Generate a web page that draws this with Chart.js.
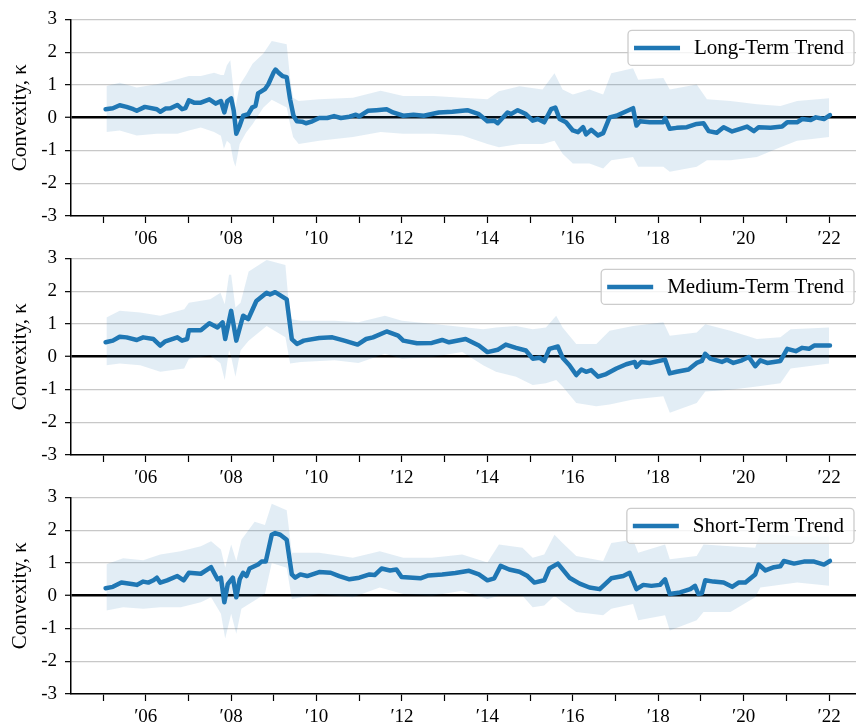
<!DOCTYPE html>
<html>
<head>
<meta charset="utf-8">
<script src="https://cdn.jsdelivr.net/npm/chart.js@4.4.0/dist/chart.umd.min.js"></script>
<style>
  body { margin: 0; background: #fff; width: 856px; height: 725px; overflow: hidden; position: relative; }
  canvas { position: absolute; left: 0; }
</style>
</head>
<body>
<canvas id="longChart" width="856" height="250" style="top:0px"></canvas>
<canvas id="mediumChart" width="856" height="250" style="top:239px"></canvas>
<canvas id="shortChart" width="856" height="250" style="top:478px"></canvas>
<script>
// tick years on the x axis
const tickYears = [2005, 2006, 2007, 2008, 2009, 2010, 2011, 2012, 2013, 2014, 2015, 2016, 2017, 2018, 2019, 2020, 2021, 2022];
const yTicks = [-3, -2, -1, 0, 1, 2, 3];

// Long-term trend
const longYears = [2005.06, 2005.23, 2005.39, 2005.55, 2005.71, 2005.79, 2005.98, 2006.26, 2006.34, 2006.46, 2006.58, 2006.74, 2006.85, 2006.93, 2007.01, 2007.13, 2007.29, 2007.49, 2007.64, 2007.76, 2007.84, 2007.91, 2008.0, 2008.06, 2008.12, 2008.2, 2008.28, 2008.4, 2008.49, 2008.57, 2008.63, 2008.79, 2008.87, 2008.99, 2009.04, 2009.11, 2009.2, 2009.3, 2009.38, 2009.46, 2009.54, 2009.66, 2009.75, 2009.9, 2010.06, 2010.25, 2010.41, 2010.57, 2010.77, 2010.92, 2011.0, 2011.2, 2011.4, 2011.64, 2011.79, 2012.03, 2012.27, 2012.51, 2012.86, 2013.18, 2013.53, 2013.8, 2014.0, 2014.16, 2014.24, 2014.47, 2014.55, 2014.71, 2014.9, 2015.06, 2015.18, 2015.33, 2015.49, 2015.59, 2015.69, 2015.84, 2016.0, 2016.12, 2016.24, 2016.31, 2016.43, 2016.59, 2016.71, 2016.86, 2017.02, 2017.41, 2017.49, 2017.57, 2017.8, 2018.12, 2018.16, 2018.27, 2018.43, 2018.67, 2018.9, 2019.06, 2019.18, 2019.37, 2019.53, 2019.73, 2019.92, 2020.08, 2020.24, 2020.35, 2020.63, 2020.9, 2021.02, 2021.25, 2021.37, 2021.57, 2021.69, 2021.88, 2022.02];
const longKappa = [0.26, 0.29, 0.38, 0.33, 0.26, 0.21, 0.33, 0.26, 0.18, 0.28, 0.29, 0.39, 0.26, 0.29, 0.53, 0.46, 0.46, 0.56, 0.43, 0.51, 0.16, 0.51, 0.59, 0.21, -0.49, -0.24, 0.06, 0.11, 0.31, 0.36, 0.74, 0.87, 1.02, 1.37, 1.47, 1.37, 1.27, 1.24, 0.56, 0.06, -0.11, -0.12, -0.17, -0.11, -0.01, -0.01, 0.05, -0.01, 0.03, 0.09, 0.04, 0.21, 0.23, 0.26, 0.16, 0.06, 0.09, 0.06, 0.16, 0.18, 0.23, 0.11, -0.11, -0.09, -0.17, 0.16, 0.11, 0.23, 0.11, -0.09, -0.04, -0.14, 0.26, 0.31, -0.04, -0.14, -0.39, -0.44, -0.29, -0.51, -0.37, -0.54, -0.47, 0.01, 0.06, 0.29, -0.24, -0.11, -0.14, -0.14, -0.01, -0.34, -0.31, -0.29, -0.19, -0.17, -0.41, -0.46, -0.29, -0.42, -0.34, -0.27, -0.41, -0.29, -0.31, -0.27, -0.14, -0.14, -0.04, -0.07, 0.01, -0.04, 0.08];
const longBandYears = [2005.08, 2005.39, 2005.79, 2006.26, 2006.74, 2007.01, 2007.29, 2007.6, 2007.76, 2007.83, 2007.9, 2007.98, 2008.05, 2008.1, 2008.2, 2008.35, 2008.5, 2008.75, 2008.95, 2009.3, 2009.38, 2009.45, 2009.58, 2010.06, 2010.85, 2011.5, 2012.03, 2012.74, 2013.41, 2014.0, 2014.27, 2014.75, 2015.29, 2015.57, 2015.76, 2016.0, 2016.39, 2016.71, 2016.9, 2017.41, 2017.53, 2018.12, 2018.27, 2018.9, 2019.14, 2019.69, 2020.31, 2020.86, 2021.25, 2022.0];
const longBandLow = [-0.44, -0.39, -0.54, -0.49, -0.49, -0.39, -0.3, -0.44, -0.55, -0.95, -0.7, -0.8, -1.3, -1.5, -0.8, -0.45, -0.2, 0.3, 0.55, 0.31, -0.2, -0.59, -0.8, -0.7, -0.59, -0.44, -0.49, -0.49, -0.54, -0.8, -0.9, -0.8, -0.8, -0.7, -1.1, -1.4, -1.4, -1.55, -1.3, -1.2, -1.5, -1.5, -1.65, -1.5, -1.3, -1.3, -1.2, -0.9, -0.7, -0.59];
const longBandHigh = [0.97, 1.07, 0.92, 1.02, 1.17, 1.27, 1.27, 1.37, 1.3, 1.3, 1.6, 1.75, 0.9, 0.3, 1.0, 1.3, 1.65, 1.95, 2.34, 2.24, 1.2, 0.61, 0.51, 0.56, 0.61, 0.82, 0.66, 0.66, 0.61, 0.56, 0.81, 0.96, 0.86, 1.36, 0.86, 0.71, 0.86, 0.71, 1.36, 1.51, 1.16, 1.21, 0.86, 1.01, 0.56, 0.51, 0.41, 0.36, 0.51, 0.59];

// Medium-term trend
const mediumYears = [2005.06, 2005.23, 2005.39, 2005.55, 2005.79, 2005.94, 2006.18, 2006.34, 2006.46, 2006.74, 2006.85, 2006.97, 2007.01, 2007.29, 2007.49, 2007.68, 2007.8, 2007.86, 2008.0, 2008.12, 2008.28, 2008.4, 2008.59, 2008.83, 2008.91, 2009.03, 2009.3, 2009.42, 2009.54, 2009.7, 2010.06, 2010.37, 2010.65, 2010.96, 2011.16, 2011.32, 2011.64, 2011.91, 2012.03, 2012.35, 2012.7, 2012.94, 2013.1, 2013.49, 2013.8, 2014.0, 2014.24, 2014.43, 2014.67, 2014.9, 2015.06, 2015.22, 2015.33, 2015.45, 2015.65, 2015.76, 2015.92, 2016.08, 2016.2, 2016.31, 2016.43, 2016.59, 2016.78, 2017.02, 2017.25, 2017.45, 2017.49, 2017.6, 2017.8, 2018.16, 2018.27, 2018.43, 2018.71, 2018.9, 2019.02, 2019.1, 2019.22, 2019.49, 2019.61, 2019.76, 2019.96, 2020.12, 2020.27, 2020.39, 2020.55, 2020.86, 2021.02, 2021.22, 2021.37, 2021.53, 2021.65, 2021.88, 2022.02];
const mediumKappa = [0.44, 0.49, 0.61, 0.59, 0.51, 0.59, 0.54, 0.34, 0.47, 0.59, 0.49, 0.54, 0.81, 0.81, 1.02, 0.89, 1.05, 0.54, 1.4, 0.49, 1.25, 1.15, 1.7, 1.95, 1.9, 1.97, 1.75, 0.54, 0.39, 0.49, 0.57, 0.59, 0.49, 0.37, 0.54, 0.59, 0.77, 0.64, 0.49, 0.41, 0.42, 0.51, 0.44, 0.54, 0.34, 0.14, 0.21, 0.37, 0.27, 0.19, -0.06, -0.03, -0.13, 0.24, 0.31, -0.03, -0.26, -0.56, -0.39, -0.46, -0.41, -0.61, -0.53, -0.36, -0.23, -0.16, -0.31, -0.16, -0.19, -0.09, -0.51, -0.46, -0.39, -0.19, -0.13, 0.09, -0.06, -0.16, -0.09, -0.19, -0.11, -0.01, -0.29, -0.11, -0.19, -0.13, 0.24, 0.17, 0.27, 0.24, 0.34, 0.34, 0.34];
const mediumBandYears = [2005.08, 2005.39, 2005.87, 2006.34, 2006.9, 2007.01, 2007.51, 2007.75, 2007.85, 2007.95, 2008.0, 2008.1, 2008.22, 2008.41, 2008.83, 2009.27, 2009.38, 2009.63, 2010.42, 2010.98, 2011.6, 2012.0, 2012.74, 2013.41, 2013.9, 2014.2, 2014.67, 2015.06, 2015.37, 2015.61, 2015.76, 2016.08, 2016.55, 2016.86, 2017.41, 2018.12, 2018.27, 2018.9, 2019.1, 2019.69, 2020.31, 2020.86, 2021.1, 2022.0];
const mediumBandLow = [-0.26, -0.21, -0.26, -0.46, -0.36, -0.06, 0.04, -0.2, -0.71, 0.2, 0.0, -0.61, 0.19, 0.49, 0.94, 0.59, -0.21, -0.16, -0.11, -0.19, 0.09, -0.06, 0.0, 0.14, -0.26, -0.46, -0.61, -0.86, -0.81, -0.71, -0.91, -1.41, -1.51, -1.46, -1.31, -1.21, -1.71, -1.41, -1.06, -1.01, -0.91, -0.81, -0.36, -0.21];
const mediumBandHigh = [1.2, 1.4, 1.35, 1.25, 1.45, 1.65, 1.75, 1.95, 1.6, 2.5, 2.5, 1.5, 1.65, 2.6, 2.95, 2.8, 1.15, 1.1, 1.1, 1.05, 1.25, 1.1, 1.0, 0.91, 0.84, 0.89, 0.94, 0.84, 0.89, 1.25, 0.89, 0.39, 0.39, 0.79, 0.94, 1.05, 0.64, 0.74, 0.99, 0.79, 0.54, 0.59, 0.84, 0.89];

// Short-term trend
const shortYears = [2005.06, 2005.23, 2005.43, 2005.71, 2005.79, 2005.94, 2006.06, 2006.18, 2006.26, 2006.34, 2006.5, 2006.74, 2006.89, 2007.01, 2007.29, 2007.53, 2007.68, 2007.76, 2007.84, 2007.92, 2008.04, 2008.12, 2008.2, 2008.28, 2008.36, 2008.43, 2008.63, 2008.71, 2008.81, 2008.95, 2009.03, 2009.15, 2009.3, 2009.42, 2009.5, 2009.62, 2009.78, 2010.06, 2010.33, 2010.53, 2010.77, 2011.0, 2011.24, 2011.36, 2011.52, 2011.72, 2011.87, 2011.99, 2012.43, 2012.62, 2012.94, 2013.25, 2013.57, 2013.8, 2014.0, 2014.16, 2014.31, 2014.51, 2014.75, 2014.94, 2015.1, 2015.33, 2015.45, 2015.65, 2015.92, 2016.16, 2016.39, 2016.63, 2016.9, 2017.18, 2017.33, 2017.49, 2017.65, 2017.84, 2018.04, 2018.16, 2018.27, 2018.51, 2018.75, 2018.86, 2018.94, 2019.02, 2019.1, 2019.29, 2019.53, 2019.73, 2019.88, 2020.04, 2020.27, 2020.35, 2020.51, 2020.71, 2020.86, 2020.94, 2021.18, 2021.41, 2021.65, 2021.88, 2022.02];
const shortKappa = [0.23, 0.27, 0.4, 0.35, 0.33, 0.43, 0.4, 0.47, 0.55, 0.4, 0.47, 0.6, 0.47, 0.7, 0.67, 0.87, 0.5, 0.55, -0.2, 0.35, 0.55, -0.05, 0.5, 0.7, 0.6, 0.83, 0.95, 1.04, 1.04, 1.86, 1.91, 1.86, 1.71, 0.65, 0.55, 0.65, 0.6, 0.72, 0.7, 0.6, 0.5, 0.55, 0.65, 0.63, 0.83, 0.77, 0.8, 0.57, 0.53, 0.62, 0.65, 0.69, 0.76, 0.65, 0.47, 0.53, 0.91, 0.8, 0.73, 0.6, 0.4, 0.47, 0.83, 0.98, 0.55, 0.37, 0.25, 0.2, 0.53, 0.6, 0.7, 0.2, 0.33, 0.3, 0.33, 0.5, 0.05, 0.1, 0.2, 0.3, 0.05, 0.07, 0.47, 0.43, 0.4, 0.27, 0.4, 0.4, 0.65, 0.95, 0.77, 0.87, 0.9, 1.06, 0.98, 1.04, 1.04, 0.95, 1.06];
const shortBandYears = [2005.08, 2005.47, 2005.94, 2006.34, 2006.82, 2007.29, 2007.53, 2007.76, 2007.86, 2008.0, 2008.12, 2008.24, 2008.55, 2008.79, 2008.95, 2009.3, 2009.42, 2010.06, 2010.85, 2011.48, 2012.03, 2012.7, 2013.41, 2014.0, 2014.27, 2014.82, 2015.06, 2015.33, 2015.57, 2015.76, 2016.08, 2016.71, 2016.9, 2017.41, 2017.53, 2018.16, 2018.27, 2018.9, 2019.06, 2019.69, 2020.27, 2020.39, 2021.25, 2022.0];
const shortBandLow = [-0.45, -0.35, -0.4, -0.35, -0.35, -0.2, -0.05, -0.55, -1.31, -0.55, -1.16, -0.4, -0.15, 0.05, 1.0, 0.85, -0.1, 0.05, -0.05, 0.25, 0.05, 0.0, 0.15, -0.1, 0.0, 0.0, -0.35, -0.3, 0.0, -0.2, -0.5, -0.6, -0.4, -0.25, -0.75, -0.6, -1.06, -0.75, -0.5, -0.5, -0.05, 0.25, 0.4, 0.3];
const shortBandHigh = [0.96, 1.14, 1.08, 1.26, 1.36, 1.51, 1.66, 1.41, 0.86, 1.56, 1.06, 1.71, 2.26, 2.16, 2.81, 2.61, 1.31, 1.31, 1.16, 1.36, 1.16, 1.16, 1.26, 1.01, 1.56, 1.46, 1.16, 1.26, 1.86, 1.61, 1.21, 1.06, 1.61, 1.71, 1.31, 1.56, 1.11, 1.21, 1.56, 1.51, 1.46, 1.91, 1.81, 1.81];

const lineColor = '#1f77b4';
const bandColor = 'rgba(31, 119, 180, 0.13)';

Chart.defaults.font.family = '"Liberation Serif", "Times New Roman", serif';
Chart.defaults.color = '#000';

const toPoints = (xs, ys) => xs.map((x, i) => ({ x: x, y: ys[i] }));

// legend drawn as a framed box in the top right of the plot area
const legendBox = {
  id: 'legendBox',
  afterDraw(chart, args, opts) {
    const { ctx, chartArea } = chart;
    ctx.save();
    ctx.font = '21px "Liberation Serif", serif';
    const w = ctx.measureText(opts.text).width + 76;
    const h = 35;
    const x = chartArea.right - 2 - w;
    const y = chartArea.top + 11;
    ctx.beginPath();
    ctx.roundRect(x, y, w, h, 4);
    ctx.fillStyle = 'rgba(255,255,255,0.8)';
    ctx.fill();
    ctx.strokeStyle = '#cccccc';
    ctx.lineWidth = 1.3;
    ctx.stroke();
    ctx.beginPath();
    ctx.moveTo(x + 6, y + h / 2);
    ctx.lineTo(x + 52, y + h / 2);
    ctx.strokeStyle = lineColor;
    ctx.lineWidth = 4.5;
    ctx.stroke();
    ctx.fillStyle = '#000';
    ctx.textBaseline = 'middle';
    ctx.fillText(opts.text, x + 66, y + h / 2 + 1);
    ctx.restore();
  }
};

function makePanel(id, label, years, kappa, bandYears, bandLow, bandHigh) {
  return new Chart(document.getElementById(id), {
    type: 'line',
    data: {
      datasets: [
        {
          label: label,
          data: toPoints(years, kappa),
          borderColor: lineColor,
          borderWidth: 4.5,
          borderJoinStyle: 'round',
          borderCapStyle: 'round',
          pointRadius: 0,
          tension: 0,
          fill: false
        },
        {
          label: 'upper',
          data: toPoints(bandYears, bandHigh),
          borderWidth: 0,
          borderColor: 'rgba(0,0,0,0)',
          backgroundColor: bandColor,
          pointRadius: 0,
          tension: 0,
          fill: '+1'
        },
        {
          label: 'lower',
          data: toPoints(bandYears, bandLow),
          borderWidth: 0,
          borderColor: 'rgba(0,0,0,0)',
          pointRadius: 0,
          tension: 0,
          fill: false
        }
      ]
    },
    options: {
      responsive: false,
      animation: false,
      devicePixelRatio: 1,
      layout: { padding: { top: 18, left: 0, right: 0, bottom: 0 } },
      plugins: {
        legend: { display: false },
        tooltip: { enabled: false },
        legendBox: { text: label }
      },
      scales: {
        x: {
          type: 'linear',
          min: 2004.25,
          max: 2022.63,
          afterFit: (s) => { s.height = 34; },
          afterBuildTicks: (s) => { s.ticks = tickYears.map(v => ({ value: v })); },
          border: { color: '#000', width: 1.5 },
          grid: { drawOnChartArea: false, drawTicks: true, tickLength: 7, tickColor: '#000', tickWidth: 1.2 },
          ticks: {
            autoSkip: false,
            maxRotation: 0,
            padding: 5,
            font: { size: 19 },
            callback: (v) => (v % 2 === 0 ? '\u2032' + String(v).slice(2) : '')
          }
        },
        y: {
          min: -3,
          max: 3,
          afterFit: (s) => { s.width = 71; },
          afterBuildTicks: (s) => { s.ticks = yTicks.map(v => ({ value: v })); },
          border: { color: '#000', width: 1.5 },
          grid: {
            color: (c) => (c.tick && c.tick.value === 0 ? '#000' : '#c8c8c8'),
            lineWidth: (c) => (c.tick && c.tick.value === 0 ? 2.5 : 1.3),
            tickLength: 6,
            tickColor: '#000',
            tickWidth: 1.2
          },
          ticks: { padding: 8, font: { size: 19 }, callback: (v) => String(v) },
          title: {
            display: true,
            text: 'Convexity, \u03ba',
            font: { size: 21 },
            padding: { top: 8, bottom: 0 }
          }
        }
      }
    },
    plugins: [legendBox]
  });
}

makePanel('longChart', 'Long-Term Trend', longYears, longKappa, longBandYears, longBandLow, longBandHigh);
makePanel('mediumChart', 'Medium-Term Trend', mediumYears, mediumKappa, mediumBandYears, mediumBandLow, mediumBandHigh);
makePanel('shortChart', 'Short-Term Trend', shortYears, shortKappa, shortBandYears, shortBandLow, shortBandHigh);
</script>
</body>
</html>
